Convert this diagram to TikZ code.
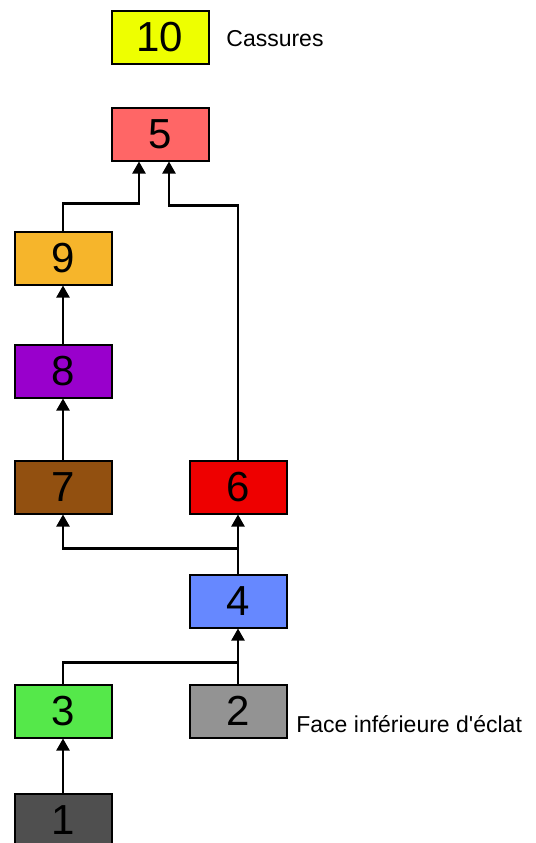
\documentclass[tikz,border=0pt]{standalone}
\usepackage{fontspec}
\setmainfont{Liberation Sans}
\newfontfamily\notefont{Liberation Sans}
\usepackage{xcolor}
\definecolor{PhaseOne}{HTML}{4F4F4F}
\definecolor{PhaseTwo}{HTML}{939393}
\definecolor{PhaseThree}{HTML}{55E84A}
\definecolor{PhaseFour}{HTML}{6688FF}
\definecolor{PhaseFive}{HTML}{FF6666}
\definecolor{PhaseSix}{HTML}{EE0000}
\definecolor{PhaseSeven}{HTML}{925010}
\definecolor{PhaseEight}{HTML}{9900CC}
\definecolor{PhaseNine}{HTML}{F6B52B}
\definecolor{PhaseTen}{HTML}{EEFF00}
\usetikzlibrary{arrows.meta, positioning}
\tikzset{
  phase/.style={
    rectangle, draw=black, line width=1pt, fill=#1,
    minimum width=48.5pt, minimum height=26.5pt, inner sep=0pt,
    font=\fontsize{21}{21}\selectfont, text=black
  },
  note/.style={inner sep=0pt, font=\notefont\fontsize{11.5}{12}\selectfont},
  link/.style={line width=1.1pt, black},
  arrow/.style={-{Triangle[width=6.5pt,length=6pt]}, line width=1.1pt, black},
}

\begin{document}
\begin{tikzpicture}[x=0.5pt, y=-0.5pt]
  \useasboundingbox (0,0) rectangle (536,843);

  \node[phase=PhaseOne] (n1) at (63,820) {1};
  \node[phase=PhaseThree, above=27pt of n1] (n3) {3};
  \node[phase=PhaseTwo, right=38pt of n3] (n2) {2};
  \node[phase=PhaseFour, above=27.5pt of n2] (n4) {4};
  \node[phase=PhaseSix, above=29.5pt of n4] (n6) {6};
  \node[phase=PhaseSeven, left=38pt of n6] (n7) {7};
  \node[phase=PhaseEight, above=30.5pt of n7] (n8) {8};
  \node[phase=PhaseNine, above=29pt of n8] (n9) {9};
  \node[phase=PhaseFive] (n5) at (160,134) {5};
  \node[phase=PhaseTen, above=21pt of n5] (n10) {10};

  \node[note, anchor=base west] (cassures) at (226,46) {Cassures};
  \node[note, anchor=base west] (face) at (296,732) {Face inférieure d'éclat};

  \draw[arrow] (n1) -- (n3);
  \draw[arrow] (n2) -- (n4);
  \draw[link] (n3.north) -- ++(0,10.5pt) -| (n2.north);
  \draw[arrow] (n4) -- (n6);
  \draw[arrow] (n4.north) -- ++(0,12.5pt) -| (n7.south);
  \draw[arrow] (n7) -- (n8);
  \draw[arrow] (n8) -- (n9);
  \draw[arrow] (n9.north) -- ++(0,13.5pt) -| ([xshift=-10.5pt]n5.south);
  \draw[arrow] (n6.north) |- ([xshift=4.5pt,yshift=-22pt]n5.south) -- ([xshift=4.5pt]n5.south);
\end{tikzpicture}
\end{document}
